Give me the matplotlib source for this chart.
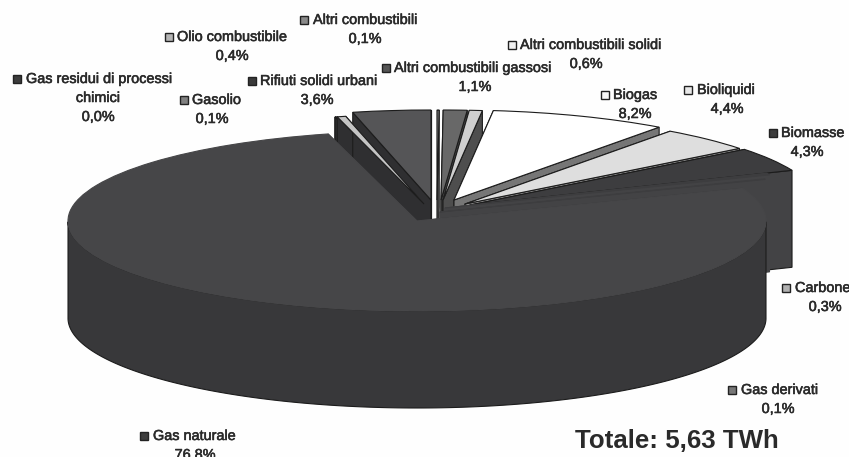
import numpy as np
import matplotlib
matplotlib.use("Agg")
import matplotlib.pyplot as plt
from matplotlib.patches import Polygon, Rectangle
import matplotlib.patheffects as pe

plt.rcParams['font.family'] = ['Liberation Sans', 'DejaVu Sans']

# ---- data (clockwise from 12 o'clock) ----
names = ["Altri combustibili", "Altri combustibili gassosi", "Altri combustibili solidi",
         "Biogas", "Bioliquidi", "Biomasse", "Carbone", "Gas derivati", "Gas naturale",
         "Gas residui di processi", "Gasolio", "Olio combustibile", "Rifiuti solidi urbani"]
values = [0.1, 1.1, 0.6, 8.2, 4.4, 4.3, 0.3, 0.1, 76.8, 0.0, 0.1, 0.4, 3.6]
extra_lines = {"Gas residui di processi": "chimici"}
total_label = "Totale: 5,63 TWh"

# ---- style ----
top_cols = ["#7c7c7c", "#686868", "#cfcfcf", "#ffffff", "#dedede", "#3d3d3f", "#3d3d3f",
            "#3d3d3f", "#464648", "#3a3a3a", "#303032", "#c4c4c4", "#555557"]
side_cols = ["#505050", "#4a4a4a", "#4e4e4e", "#767676", "#9a9a9a", "#434345", "#434345",
             "#434345", "#38383a", "#2a2a2a", "#2f2f31", "#2f2f31", "#2f2f31"]
key_cols = ["#8a8a8a", "#555555", "#f2f2f2", "#f8f8f8", "#e8e8e8", "#3c3c3c", "#b0b0b0",
            "#777777", "#3c3c3c", "#3c3c3c", "#808080", "#b5b5b5", "#3a3a3a"]
# slice centres in image pixels
centres = [(437, 200), (441, 200), (443, 200), (454, 200), (465, 204), (470, 205), (445, 208),
           (440, 212), (417, 221), (424, 204), (424, 204), (424, 204), (431, 200)]
draw_order = [9, 10, 11, 12, 0, 1, 2, 3, 4, 5, 6, 7, 8]
# label layout: key centre x, text left x, first-line y, centre x of lower lines
layout = [(304, 313, 20, 365), (386, 394, 68, 475), (512, 520, 45, 586), (605, 613, 95, 635),
          (688, 697, 90, 727), (773, 781, 133, 807), (786, 795, 288, 825), (732, 741, 390, 778),
          (144, 153, 436, 195), (17, 26, 79, 98), (184, 192, 100, 212), (169, 177, 37, 232),
          (252, 260, 81, 317)]

W, H = 849, 457
RX, RY, DEPTH = 349, 90, 97
k = RY / RX

fig = plt.figure(figsize=(W / 100, H / 100), dpi=100, facecolor="#fefefe")
ax = fig.add_axes([0, 0, 1, 1])


def Y(py):
    return (H - py) / k


wedges, _ = ax.pie(values, startangle=90, counterclock=False, radius=RX, center=(417, Y(221)),
                   colors=top_cols, wedgeprops=dict(edgecolor="#1c1c1c", linewidth=0.8))
ax.set_aspect("auto")
ax.set_xlim(0, W)
ax.set_ylim(0, H / k)
ax.set_axis_off()

# slices that blend into their neighbours, without an outline of their own
BLEND = [names.index(n) for n in ("Carbone", "Gas derivati", "Gas naturale")]
dz = DEPTH / k
for z, i in enumerate(draw_order):
    w = wedges[i]
    cx, cy = centres[i][0], Y(centres[i][1])
    w.set_center((cx, cy))
    w.set_zorder(10 + z * 3 + 2)
    if i in BLEND:
        w.set_edgecolor(top_cols[i])
    cut_edge = dict(edgecolor=side_cols[i] if i in BLEND else "#1c1c1c", linewidth=0.8)
    wall_edge = dict(edgecolor="#1c1c1c", linewidth=0.8)
    t = np.radians(np.linspace(w.theta1, w.theta2, 600))
    px, py = cx + RX * np.cos(t), cy + RX * np.sin(t)
    # two cut faces, the one facing the viewer last
    mid = np.radians((w.theta1 + w.theta2) / 2)
    for j in ((-1, 0) if np.cos(mid) > 0 else (0, -1)):
        ax.add_patch(Polygon([(cx, cy), (px[j], py[j]), (px[j], py[j] - dz), (cx, cy - dz)],
                             facecolor=side_cols[i], zorder=10 + z * 3, **cut_edge))
    # curved wall: only the part that faces the viewer
    front = np.sin(t) < 0
    if front.sum() > 1:
        fx, fy = px[front], py[front]
        ax.add_patch(Polygon(np.c_[np.r_[fx, fx[::-1]], np.r_[fy, fy[::-1] - dz]],
                             facecolor=side_cols[i], zorder=10 + z * 3 + 1, **wall_edge))

# the thin light slice stays visible across the dark wall of its neighbour
wedges[names.index("Olio combustibile")].set_zorder(30)

soft = [pe.withStroke(linewidth=0.4, foreground="#2a2a2a")]
txt = dict(fontsize=10.4, color="#2a2a2a", va="center", path_effects=soft, zorder=100)
for name, val, (kx, tx, ty, mx), col in zip(names, values, layout, key_cols):
    ax.add_patch(Rectangle((kx - 4, Y(ty + 4)), 8, 8 / k, facecolor=col,
                           edgecolor="#222222", linewidth=1.0, zorder=100))
    ax.text(tx, Y(ty), name, ha="left", **txt)
    lines = ([extra_lines[name]] if name in extra_lines else []) + \
            [f"{val:.1f}".replace(".", ",") + "%"]
    for n, line in enumerate(lines):
        ax.text(mx, Y(ty + 19 * (n + 1)), line, ha="center", **txt)

ax.text(677, Y(441), total_label, ha="center", va="center", fontsize=18.6,
        fontweight="bold", color="#2a2a2a", zorder=100)

fig.savefig("out.png", dpi=100, facecolor=fig.get_facecolor())
